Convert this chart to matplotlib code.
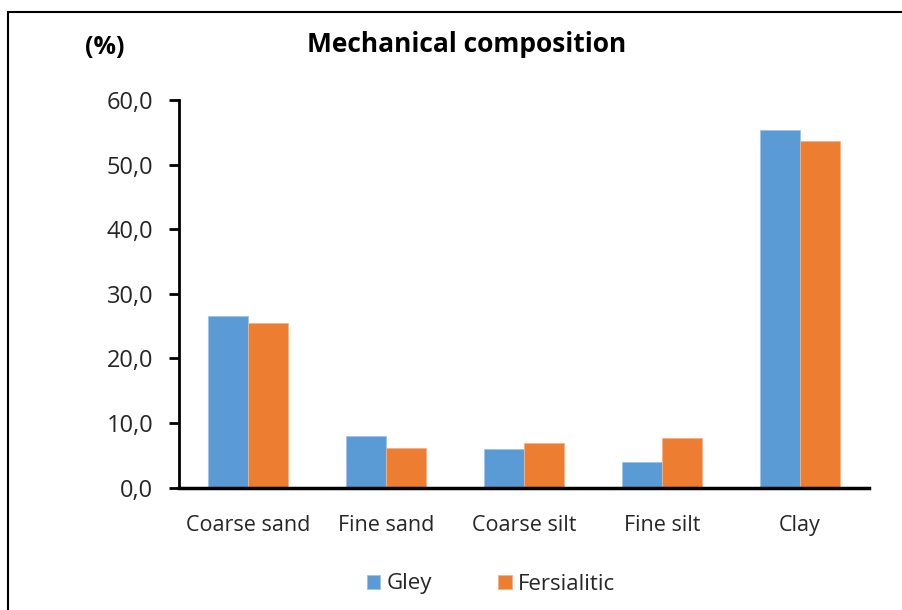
import matplotlib
matplotlib.use("Agg")
import matplotlib.pyplot as plt
import numpy as np
from matplotlib.patches import Rectangle

categories = ["Coarse sand", "Fine sand", "Coarse silt", "Fine silt", "Clay"]
gley = [26.6, 8.0, 6.0, 4.0, 55.4]
fersialitic = [25.5, 6.2, 6.9, 7.7, 53.6]
series_names = ["Gley", "Fersialitic"]
yticks = [0, 10, 20, 30, 40, 50, 60]
ytick_labels = ["0,0", "10,0", "20,0", "30,0", "40,0", "50,0", "60,0"]

plt.rcParams['font.family'] = ['Open Sans', 'DejaVu Sans']

fig = plt.figure(figsize=(9.02, 6.10), dpi=100)
ax = fig.add_axes([179/902, 1-487.7/610, 690/902, 387.7/610])

x = np.arange(len(categories))
w = 0.29
blue = "#5B9BD5"
orange = "#ED7D31"
b1 = ax.bar(x - w/2, gley, w, color=blue, edgecolor="#9cc3e8", linewidth=0.6, label=series_names[0], zorder=2)
b2 = ax.bar(x + w/2, fersialitic, w, color=orange, edgecolor="#f4b183", linewidth=0.6, label=series_names[1], zorder=2)

ax.set_xlim(-0.5, len(categories) - 0.5)
ax.set_ylim(0, 60)
ax.set_yticks(yticks)
ax.set_yticklabels(ytick_labels, fontsize=17, color="#262626")
ax.set_xticks(x)
ax.set_xticklabels(categories, fontsize=15.5, color="#262626")
ax.tick_params(axis='x', length=0, pad=19.5)
ax.tick_params(axis='y', length=7.5, width=2, direction='out', pad=11, color="black")
for s in ["top", "right"]:
    ax.spines[s].set_visible(False)
ax.spines["left"].set_linewidth(2)
ax.spines["bottom"].set_linewidth(2.5)
ax.spines["left"].set_color("black")
ax.spines["bottom"].set_color("black")

fig.text(467/902, 1-44/610, "Mechanical composition", ha="center", va="center",
         fontsize=19, fontweight="bold", color="black")
fig.text(105/902, 1-48/610, "(%)", ha="center", va="center",
         fontsize=18, fontweight="bold", color="black")

leg = fig.legend(handles=[b1, b2], labels=series_names, loc="center",
                 bbox_to_anchor=(491/902, 1-584/610), ncol=2, frameon=False,
                 fontsize=16, handlelength=0.6, handleheight=0.6,
                 handletextpad=0.28, columnspacing=3.0)
for t in leg.get_texts():
    t.set_color("#262626")

fig.patches.append(Rectangle((8/902, -0.1), 1.2, 1 - 12/610 + 0.1, transform=fig.transFigure,
                             fill=False, edgecolor="black", linewidth=1.5, zorder=10))

fig.savefig("out.png", dpi=100, facecolor="white")
